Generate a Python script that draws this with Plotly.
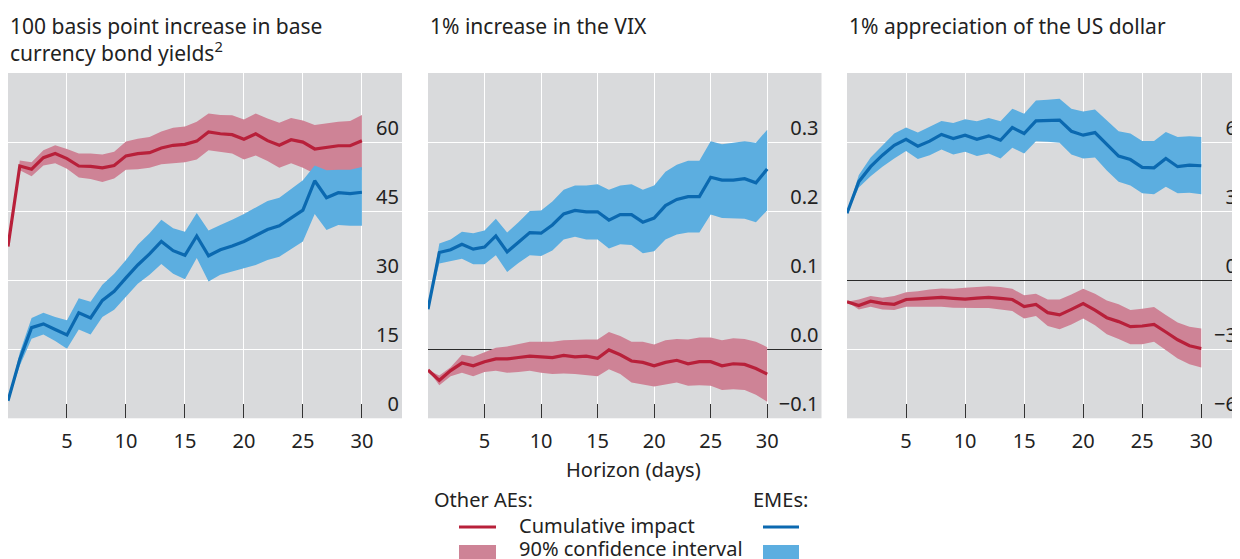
import plotly.graph_objects as go

# Page has an 8px body margin; the figure is sized/positioned to compensate.
OFF = 8
W, H = 1240 - OFF, 559 - OFF


def px(sx):
    return (sx - OFF) / W


def py(sy):
    return 1 - (sy - OFF) / H


days = list(range(31))

# Panel 1: 100 bp increase in base currency bond yields
p1_ae = [37.3, 54.8, 54.1, 56.6, 57.5, 56.4, 54.8, 54.7, 54.4, 54.9, 57.0, 57.5, 57.7, 58.7, 59.3, 59.5,
         60.2, 62.2, 61.8, 61.6, 60.6, 61.8, 60.3, 59.3, 60.5, 60.0, 58.5, 58.9, 59.2, 59.2, 60.3]
p1_ae_hi = [37.3, 56.0, 55.6, 58.2, 59.3, 58.5, 57.5, 57.5, 57.3, 57.9, 60.1, 60.7, 61.1, 62.3, 63.1, 63.4,
            64.4, 66.2, 65.9, 65.8, 64.9, 66.2, 65.1, 64.2, 65.2, 64.7, 63.7, 64.1, 64.4, 64.6, 65.9]
p1_ae_lo = [37.3, 53.9, 52.6, 54.9, 55.4, 54.2, 52.3, 52.0, 51.3, 52.1, 54.0, 54.1, 54.4, 55.2, 55.4, 55.6,
            56.2, 58.2, 57.8, 57.5, 56.2, 57.1, 55.9, 54.4, 55.4, 54.4, 53.1, 53.3, 53.5, 53.6, 53.9]
p1_em = [3.8, 12.8, 19.7, 20.5, 19.3, 18.1, 22.9, 21.8, 25.6, 27.6, 30.5, 33.3, 35.7, 38.4, 36.4, 35.4,
         39.6, 35.3, 36.6, 37.4, 38.4, 39.7, 41.0, 41.8, 43.4, 45.2, 51.6, 47.9, 49.0, 48.8, 49.1]
p1_em_hi = [3.8, 14.3, 21.8, 22.9, 22.0, 21.3, 26.1, 25.3, 29.0, 31.4, 34.4, 37.7, 40.2, 43.1, 41.3, 40.5,
            44.6, 40.8, 42.0, 43.1, 44.4, 45.8, 47.2, 47.9, 49.7, 51.7, 54.9, 53.9, 54.0, 54.0, 54.6]
p1_em_lo = [3.8, 11.4, 17.3, 18.2, 16.8, 15.1, 19.3, 18.2, 22.0, 23.6, 26.5, 29.2, 31.2, 33.5, 31.4, 30.2,
            34.8, 29.7, 31.2, 31.9, 32.6, 33.3, 34.4, 35.1, 36.7, 38.4, 44.4, 40.9, 42.0, 41.8, 41.8]

# Panel 2: 1% increase in the VIX
p2_ae = [-0.030, -0.045, -0.031, -0.020, -0.024, -0.018, -0.014, -0.014, -0.012, -0.010, -0.011, -0.012,
         -0.009, -0.011, -0.010, -0.013, -0.001, -0.008, -0.017, -0.019, -0.024, -0.019, -0.016, -0.021,
         -0.018, -0.018, -0.024, -0.021, -0.022, -0.028, -0.036]
p2_ae_hi = [-0.030, -0.038, -0.026, -0.008, -0.011, -0.004, 0.002, 0.004, 0.007, 0.011, 0.011, 0.011,
            0.013, 0.014, 0.014, 0.014, 0.025, 0.019, 0.011, 0.011, 0.007, 0.013, 0.015, 0.014, 0.017,
            0.017, 0.013, 0.016, 0.015, 0.011, 0.003]
p2_ae_lo = [-0.030, -0.052, -0.039, -0.034, -0.039, -0.033, -0.031, -0.034, -0.033, -0.031, -0.034, -0.036,
            -0.035, -0.036, -0.037, -0.039, -0.029, -0.036, -0.048, -0.051, -0.054, -0.051, -0.048, -0.053,
            -0.052, -0.053, -0.059, -0.058, -0.059, -0.066, -0.076]
p2_em = [0.058, 0.140, 0.144, 0.152, 0.145, 0.148, 0.164, 0.141, 0.155, 0.169, 0.168, 0.180, 0.196, 0.201,
         0.199, 0.199, 0.187, 0.195, 0.195, 0.184, 0.190, 0.208, 0.217, 0.221, 0.221, 0.249, 0.245, 0.245,
         0.247, 0.241, 0.261]
p2_em_hi = [0.058, 0.153, 0.159, 0.170, 0.168, 0.172, 0.189, 0.169, 0.184, 0.200, 0.201, 0.214, 0.231,
            0.237, 0.237, 0.239, 0.231, 0.237, 0.239, 0.231, 0.237, 0.257, 0.267, 0.273, 0.273, 0.301,
            0.297, 0.299, 0.301, 0.299, 0.318]
p2_em_lo = [0.058, 0.124, 0.127, 0.131, 0.123, 0.123, 0.136, 0.112, 0.125, 0.136, 0.135, 0.143, 0.159,
            0.163, 0.159, 0.159, 0.146, 0.152, 0.151, 0.139, 0.142, 0.159, 0.166, 0.169, 0.169, 0.195,
            0.190, 0.190, 0.189, 0.184, 0.201]

# Panel 3: 1% appreciation of the US dollar
p3_ae = [-0.94, -1.10, -0.91, -1.01, -1.05, -0.84, -0.81, -0.78, -0.75, -0.79, -0.82, -0.78, -0.75, -0.79,
         -0.84, -1.15, -1.05, -1.41, -1.51, -1.27, -1.02, -1.30, -1.63, -1.80, -2.02, -1.99, -1.92, -2.25,
         -2.59, -2.85, -2.97]
p3_ae_hi = [-0.94, -0.84, -0.69, -0.76, -0.69, -0.52, -0.48, -0.40, -0.36, -0.37, -0.33, -0.29, -0.26,
            -0.30, -0.37, -0.66, -0.59, -0.84, -0.84, -0.62, -0.37, -0.59, -0.88, -1.05, -1.30, -1.24,
            -1.17, -1.51, -1.84, -2.02, -2.10]
p3_ae_lo = [-0.94, -1.27, -1.15, -1.27, -1.30, -1.15, -1.17, -1.15, -1.15, -1.20, -1.22, -1.21, -1.21,
            -1.27, -1.34, -1.67, -1.56, -1.99, -2.13, -1.92, -1.67, -1.96, -2.35, -2.56, -2.78, -2.78,
            -2.68, -3.04, -3.40, -3.65, -3.79]
p3_em = [2.91, 4.28, 4.93, 5.43, 5.86, 6.12, 5.82, 6.04, 6.33, 6.15, 6.30, 6.12, 6.27, 6.08, 6.63, 6.37,
         6.92, 6.92, 6.95, 6.47, 6.30, 6.41, 5.91, 5.39, 5.24, 4.90, 4.88, 5.29, 4.93, 5.00, 4.97]
p3_em_hi = [2.91, 4.57, 5.33, 5.86, 6.37, 6.63, 6.41, 6.66, 6.92, 6.83, 6.99, 6.90, 7.05, 6.90, 7.45, 7.23,
            7.81, 7.84, 7.88, 7.45, 7.33, 7.41, 6.92, 6.47, 6.37, 6.05, 6.05, 6.44, 6.22, 6.25, 6.22]
p3_em_lo = [2.91, 4.03, 4.52, 4.93, 5.29, 5.61, 5.26, 5.43, 5.68, 5.46, 5.58, 5.39, 5.50, 5.29, 5.75, 5.50,
            6.04, 6.01, 5.97, 5.46, 5.29, 5.33, 4.76, 4.28, 4.11, 3.78, 3.73, 4.06, 3.78, 3.80, 3.73]

titles = ["100 basis point increase in base<br>currency bond yields<sup>2</sup>",
          "1% increase in the VIX",
          "1% appreciation of the US dollar"]
x_ticks = [0, 5, 10, 15, 20, 25, 30]
x_ticklabels = ["", "5", "10", "15", "20", "25", "30"]
y_ticks = [[0, 15, 30, 45, 60], [-0.1, 0.0, 0.1, 0.2, 0.3], [-6, -3, 0, 3, 6]]
y_ticklabels = [["0", "15", "30", "45", "60"], ["\u22120.1", "0.0", "0.1", "0.2", "0.3"],
                ["\u22126", "\u22123", "0", "3", "6"]]
y_ranges = [[0, 75], [-0.1, 0.4], [-6, 9]]
x_ranges = [[0, 33.4], [0, 34.8], [0, 33.28]]
legend_groups = ["Other AEs:", "EMEs:"]
legend_items = ["Cumulative impact", "90% confidence interval"]

RED = "#B8203A"
PINK = "#CE8396"
BLUE = "#0B69B0"
LBLUE = "#5CAEE0"
BG = "#D9DADC"
FONT = "Noto Sans"
TXT = "#222222"

panels = [
    (p1_ae, p1_ae_hi, p1_ae_lo, p1_em, p1_em_hi, p1_em_lo),
    (p2_ae, p2_ae_hi, p2_ae_lo, p2_em, p2_em_hi, p2_em_lo),
    (p3_ae, p3_ae_hi, p3_ae_lo, p3_em, p3_em_hi, p3_em_lo),
]

x_domains = [[px(8), px(402)], [px(428), px(821.5)], [px(847), 1.0]]
y_domain = [py(418.3), py(73)]

fig = go.Figure()

for i, (ae, ae_hi, ae_lo, em, em_hi, em_lo) in enumerate(panels):
    xa = "x" if i == 0 else f"x{i + 1}"
    ya = "y" if i == 0 else f"y{i + 1}"
    for hi, lo, col in [(ae_hi, ae_lo, PINK), (em_hi, em_lo, LBLUE)]:
        fig.add_trace(go.Scatter(x=days + days[::-1], y=hi + lo[::-1], fill="toself",
                                 fillcolor=col, line=dict(width=0), mode="lines",
                                 xaxis=xa, yaxis=ya, showlegend=False, hoverinfo="skip"))
    for vals, col in [(ae, RED), (em, BLUE)]:
        fig.add_trace(go.Scatter(x=days, y=vals, mode="lines", line=dict(color=col, width=3.2),
                                 xaxis=xa, yaxis=ya, showlegend=False))

    xkey = "xaxis" if i == 0 else f"xaxis{i + 1}"
    ykey = "yaxis" if i == 0 else f"yaxis{i + 1}"
    fig.layout[xkey] = dict(
        domain=x_domains[i], range=x_ranges[i], anchor=ya, automargin=False,
        tickmode="array", tickvals=x_ticks, ticktext=x_ticklabels,
        ticks="inside", ticklen=14, tickwidth=1.3, tickcolor="#333333",
        ticklabelstandoff=9,
        showgrid=True, gridcolor="white", gridwidth=1.3,
        zeroline=False, showline=False,
        tickfont=dict(family=FONT, size=20, color=TXT),
    )
    fig.layout[ykey] = dict(
        domain=y_domain, range=y_ranges[i], anchor=xa, side="right", automargin=False,
        tickmode="array", tickvals=y_ticks[i], ticktext=y_ticklabels[i],
        ticks="", ticklabelposition="inside top",
        showgrid=True, gridcolor="white", gridwidth=1.3,
        zeroline=(i > 0), zerolinecolor="#2a2a2a", zerolinewidth=1.3,
        showline=False,
        tickfont=dict(family=FONT, size=20, color=TXT),
    )

annotations = []
for i, t in enumerate(titles):
    annotations.append(dict(text=t, x=x_domains[i][0], y=py(10), xref="paper", yref="paper",
                            xanchor="left", yanchor="top", align="left", showarrow=False,
                            font=dict(family=FONT, size=21, color=TXT)))
annotations.append(dict(text="Horizon (days)", x=px(633), y=py(469), xref="paper", yref="paper",
                        xanchor="center", yanchor="middle", showarrow=False,
                        font=dict(family=FONT, size=20, color=TXT)))
annotations.append(dict(text=legend_groups[0], x=px(432), y=py(499), xref="paper", yref="paper",
                        xanchor="left", yanchor="middle", showarrow=False,
                        font=dict(family=FONT, size=20, color=TXT)))
annotations.append(dict(text=legend_groups[1], x=px(810), y=py(499), xref="paper", yref="paper",
                        xanchor="right", yanchor="middle", showarrow=False,
                        font=dict(family=FONT, size=20, color=TXT)))
for j, t in enumerate(legend_items):
    annotations.append(dict(text=t, x=px(517), y=py(525 + 23 * j), xref="paper", yref="paper",
                            xanchor="left", yanchor="middle", showarrow=False,
                            font=dict(family=FONT, size=20, color=TXT)))

shapes = [
    dict(type="line", xref="paper", yref="paper", x0=px(459), x1=px(496), y0=py(527), y1=py(527),
         line=dict(color=RED, width=3.2)),
    dict(type="line", xref="paper", yref="paper", x0=px(763), x1=px(799), y0=py(527), y1=py(527),
         line=dict(color=BLUE, width=3.2)),
    dict(type="rect", xref="paper", yref="paper", x0=px(459), x1=px(496), y0=py(545), y1=py(562),
         fillcolor=PINK, line=dict(width=0)),
    dict(type="rect", xref="paper", yref="paper", x0=px(763), x1=px(799), y0=py(545), y1=py(562),
         fillcolor=LBLUE, line=dict(width=0)),
]

fig.update_layout(
    width=W, height=H, margin=dict(l=0, r=0, t=0, b=0, autoexpand=False),
    paper_bgcolor="white", plot_bgcolor=BG,
    showlegend=False, annotations=annotations, shapes=shapes,
    font=dict(family=FONT, color=TXT),
)

fig.write_html("out.html")
